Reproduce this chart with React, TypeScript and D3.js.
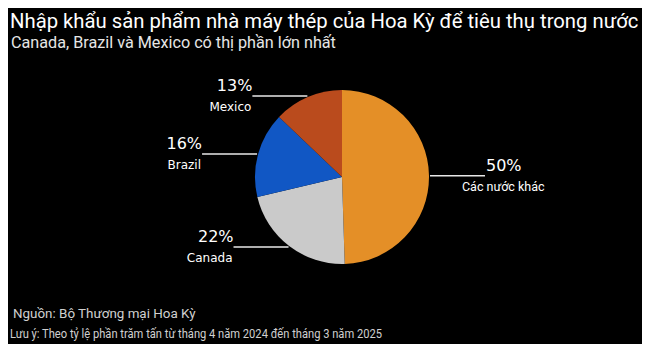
import React, { useEffect, useRef } from 'react'
import * as d3 from 'd3'

const categories = ['Các nước khác', 'Canada', 'Brazil', 'Mexico']
const shares = [50, 22, 16, 13]
const colors = ['#E48F27', '#CACACA', '#1157C4', '#BA4B1D']

const title = 'Nhập khẩu sản phẩm nhà máy thép của Hoa Kỳ để tiêu thụ trong nước'
const subtitle = 'Canada, Brazil và Mexico có thị phần lớn nhất'
const source = 'Nguồn: Bộ Thương mại Hoa Kỳ'
const note = 'Lưu ý: Theo tỷ lệ phần trăm tấn từ tháng 4 năm 2024 đến tháng 3 năm 2025'

const App: React.FC = () => {
    const chartRef = useRef<SVGSVGElement | null>(null)

    useEffect(() => {
        if (!chartRef.current) return
        const width = 650
        const height = 352
        const cx = 342
        const cy = 177
        const radius = 87

        const svg = d3.select(chartRef.current)
        svg.selectAll('*').remove()
        svg.attr('width', width).attr('height', height)

        svg.append('rect').attr('width', width).attr('height', height).attr('fill', '#000')

        svg.append('text')
            .attr('x', 10).attr('y', 28)
            .text(title)
            .style('font-family', 'Roboto, sans-serif')
            .style('font-size', '20.3px')
            .style('fill', '#fff')

        svg.append('text')
            .attr('x', 11).attr('y', 48)
            .text(subtitle)
            .style('font-family', 'Roboto, sans-serif')
            .style('font-size', '16.2px')
            .style('fill', '#e6e6e6')

        const pie = d3.pie<number>().value(d => d).sort(null)
        const arcs = pie(shares)
        const arc = d3.arc<d3.PieArcDatum<number>>().innerRadius(0).outerRadius(radius)

        const g = svg.append('g').attr('transform', `translate(${cx},${cy})`)
        g.selectAll('path')
            .data(arcs)
            .enter()
            .append('path')
            .attr('d', arc)
            .attr('fill', (d, i) => colors[i])

        const lineLen = 55
        arcs.forEach((d, i) => {
            const mid = (d.startAngle + d.endAngle) / 2
            const px = cx + Math.sin(mid) * (radius + 1)
            const py = cy - Math.cos(mid) * (radius + 1)
            const right = Math.sin(mid) > 0
            const ex = right ? px + lineLen : px - lineLen
            svg.append('line')
                .attr('x1', px).attr('x2', ex)
                .attr('y1', py).attr('y2', py)
                .attr('stroke', '#e8e8e8')
                .attr('stroke-width', 1.5)

            svg.append('text')
                .attr('x', right ? ex + 1 : ex)
                .attr('y', py - 5)
                .attr('text-anchor', right ? 'start' : 'end')
                .text(`${shares[i]}%`)
                .style('font-family', 'DejaVu Sans, sans-serif')
                .style('font-size', '16px')
                .style('fill', '#fff')

            svg.append('text')
                .attr('x', right ? ex - 23 : ex - 1)
                .attr('y', py + 15)
                .attr('text-anchor', right ? 'start' : 'end')
                .text(categories[i])
                .style('font-family', right ? 'Roboto, sans-serif' : 'DejaVu Sans, sans-serif')
                .style('font-size', right ? '12.5px' : '12px')
                .style('fill', '#fff')
        })

        svg.append('text')
            .attr('x', 13).attr('y', 318)
            .text(source)
            .style('font-family', 'Roboto, sans-serif')
            .style('font-size', '13.4px')
            .style('fill', '#d0d0d0')

        // footnote is set in a condensed face in the original
        svg.append('text')
            .attr('x', 10).attr('y', 338)
            .attr('textLength', 372)
            .attr('lengthAdjust', 'spacingAndGlyphs')
            .text(note)
            .style('font-family', 'Roboto, sans-serif')
            .style('font-size', '13.5px')
            .style('fill', '#d0d0d0')
    }, [])

    return (
        <div style={{ margin: -8 }}>
            <svg ref={chartRef} style={{ display: 'block' }}></svg>
        </div>
    )
}

export default App
